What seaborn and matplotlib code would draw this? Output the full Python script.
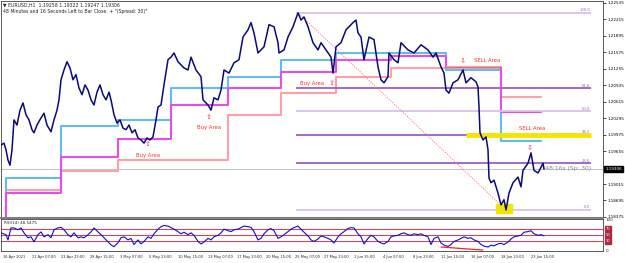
import numpy as np
import pandas as pd
import matplotlib
matplotlib.use("Agg")
import matplotlib.pyplot as plt
import seaborn as sns

# ---- price trace (slot position along the time axis, price) ----
t_price = [0, 3, 5, 7, 9, 11, 13, 16, 19, 22, 25, 28, 31, 33, 36, 40, 43, 46, 50, 53,
           56, 58, 60, 63, 66, 69, 72, 75, 78, 81, 84, 87, 90, 93, 96, 99, 102, 105, 108, 110,
           113, 116, 119, 122, 125, 128, 131, 134, 137, 140, 143, 146, 149, 152, 155, 157, 160, 163, 167, 170,
           173, 177, 180, 183, 187, 190, 195, 200, 202, 205, 207, 210, 213, 217, 220, 223, 228, 233, 238, 242,
           247, 250, 253, 257, 260, 263, 268, 273, 277, 278, 283, 287, 292, 297, 300, 303, 307, 312, 317, 320,
           325, 330, 332, 335, 340, 345, 348, 352, 355, 357, 360, 363, 368, 373, 377, 380, 383, 387, 388, 393,
           397, 400, 407, 413, 420, 427, 432, 435, 440, 443, 445, 448, 452, 457, 462, 465, 470, 475, 477, 478,
           479, 482, 485, 487, 488, 490, 493, 497, 500, 503, 505, 508, 512, 517, 520, 522, 527, 530, 533, 537,
           540, 542, 543]
price = [1.1977, 1.1981, 1.1968, 1.1948, 1.1938, 1.1968, 1.2026, 1.2016, 1.2045, 1.2059,
         1.2036, 1.2026, 1.2007, 1.2001, 1.2016, 1.2030, 1.2039, 1.2016, 1.2003, 1.2026,
         1.2045, 1.2065, 1.2104, 1.2123, 1.2139, 1.2127, 1.2104, 1.2114, 1.2088, 1.2075,
         1.2094, 1.2084, 1.2065, 1.2055, 1.2080, 1.2094, 1.2075, 1.2065, 1.2080, 1.2065,
         1.2036, 1.2020, 1.2026, 1.2010, 1.2007, 1.2016, 1.2001, 1.2007, 1.1991, 1.1987,
         1.1981, 1.1991, 1.1987, 1.1993, 1.2026, 1.2051, 1.2055, 1.2094, 1.2143, 1.2148,
         1.2156, 1.2139, 1.2133, 1.2127, 1.2123, 1.2148, 1.2123, 1.2110, 1.2065, 1.2059,
         1.2055, 1.2045, 1.2069, 1.2065, 1.2084, 1.2123, 1.2117, 1.2137, 1.2143, 1.2187,
         1.2201, 1.2215, 1.2195, 1.2156, 1.2162, 1.2168, 1.2211, 1.2207, 1.2176, 1.2156,
         1.2162, 1.2187, 1.2207, 1.2234, 1.2220, 1.2226, 1.2207, 1.2176, 1.2162, 1.2176,
         1.2162, 1.2148, 1.2117, 1.2168, 1.2176, 1.2201, 1.2207, 1.2215, 1.2220, 1.2195,
         1.2187, 1.2143, 1.2187, 1.2182, 1.2129, 1.2104, 1.2098, 1.2110, 1.2156, 1.2143,
         1.2137, 1.2176, 1.2162, 1.2156, 1.2172, 1.2162, 1.2148, 1.2156, 1.2129, 1.2117,
         1.2084, 1.2078, 1.2098, 1.2104, 1.2123, 1.2098, 1.2108, 1.2100, 1.2090, 1.2051,
         1.2001, 1.1987, 1.1993, 1.1968, 1.1913, 1.1904, 1.1909, 1.1884, 1.1861, 1.1871,
         1.1851, 1.1884, 1.1904, 1.1915, 1.1896, 1.1928, 1.1942, 1.1962, 1.1928, 1.1923,
         1.1934, 1.1942, 1.19306]

# ---- weekly levels (step lines) ----
week_edges = [0, 5, 60, 117, 170, 227, 280, 335, 390, 445, 500, 540]
blue_lvl = [1.1800, 1.1913, 1.2014, 1.2026, 1.2088, 1.2110, 1.2143, 1.2156, 1.2156, 1.2123, 1.1985]
magenta_lvl = [1.1800, 1.1884, 1.1954, 1.1989, 1.2055, 1.2088, 1.2119, 1.2143, 1.2150, 1.2129, 1.2042]
pink_lvl = [1.1800, 1.1890, 1.1927, 1.1948, 1.1948, 1.2036, 1.2078, 1.2110, 1.2127, 1.2125, 1.2071]
gold_lvl = [1.2131]
gold_edges = [445, 500]

# ---- fibonacci from swing high to swing low ----
swing_high, swing_low = 1.2234, 1.1851
t_high, t_low = 297, 505
fib_ratios = [1.0, 0.618, 0.5, 0.382, 0.236, 0.0]
fib_labels = ["100.0", "61.8", "50.0", "38.2", "23.6", "0.0"]
fib_colors = ["#d9c2ea", "#9c5fc0", "#d9c2ea", "#9c5fc0", "#9c5fc0", "#d9c2ea"]

# ---- RSI(14) ----
t_rsi = [0, 5, 7, 10, 13, 17, 20, 23, 27, 30, 33, 37, 40, 43, 47, 50, 53, 57, 60, 63,
         67, 70, 73, 77, 80, 83, 87, 90, 93, 97, 100, 103, 107, 110, 113, 117, 120, 123, 127, 130,
         133, 137, 140, 143, 147, 150, 153, 157, 160, 163, 167, 170, 173, 177, 180, 183, 187, 190, 193, 197,
         200, 203, 207, 210, 213, 217, 220, 223, 227, 230, 233, 237, 240, 243, 247, 250, 253, 257, 260, 263,
         267, 270, 273, 277, 280, 283, 287, 290, 293, 297, 300, 303, 307, 310, 313, 317, 320, 323, 327, 330,
         333, 337, 340, 343, 347, 350, 353, 357, 360, 363, 367, 370, 373, 377, 380, 383, 387, 390, 393, 397,
         400, 403, 407, 410, 413, 417, 420, 423, 427, 430, 433, 437, 440, 443, 447, 450, 453, 457, 460, 463,
         467, 470, 473, 477, 480, 483, 487, 490, 493, 497, 500, 503, 507, 510, 513, 517, 520, 523, 527, 530,
         533, 537, 540, 543]
rsi = [58, 52, 35, 74, 74, 68, 74, 58, 42, 45, 29, 52, 61, 45, 52, 42, 68, 74, 76, 68,
       52, 45, 58, 42, 45, 42, 52, 61, 74, 61, 52, 42, 29, 19, 13, 26, 42, 45, 35, 40,
       20, 35, 22, 30, 45, 40, 55, 70, 78, 82, 80, 75, 70, 62, 55, 60, 52, 58, 50, 30,
       22, 28, 40, 35, 45, 50, 58, 70, 65, 62, 68, 70, 75, 80, 78, 76, 62, 35, 40, 55,
       68, 72, 65, 40, 45, 52, 62, 70, 75, 80, 70, 60, 48, 35, 30, 38, 48, 45, 40, 35,
       25, 45, 55, 62, 72, 75, 74, 55, 45, 22, 40, 50, 45, 30, 25, 22, 30, 45, 48, 50,
       55, 58, 52, 50, 55, 52, 55, 50, 45, 20, 40, 45, 25, 18, 14, 20, 30, 35, 40, 45,
       40, 42, 35, 30, 20, 15, 12, 18, 16, 22, 24, 20, 28, 38, 45, 48, 50, 60, 62, 65,
       55, 50, 52, 48.5]
rsi_levels = [70, 50, 30]

# ---- axis labels ----
price_ticks = [1.22535, 1.22215, 1.21895, 1.21575, 1.21255, 1.20935, 1.20615,
               1.20295, 1.19975, 1.19655, 1.19015, 1.18695, 1.18375]
time_ticks = [2, 31, 60, 89, 119, 148, 177, 207, 236, 265, 294, 323, 353, 382,
              412, 440, 470, 500, 530]
time_labels = ["16 Apr 2021", "21 Apr 07:00", "23 Apr 23:00", "28 Apr 15:00", "3 May 07:00",
               "5 May 23:00", "10 May 15:00", "13 May 07:00", "17 May 23:00", "20 May 15:00",
               "25 May 07:00", "27 May 23:00", "1 Jun 15:00", "4 Jun 07:00", "8 Jun 23:00",
               "11 Jun 15:00", "16 Jun 07:00", "18 Jun 23:00", "23 Jun 15:00"]
last_price = 1.19306

sns.set_style("white")
plt.rcParams["font.family"] = ["DejaVu Sans"]
FS = 3.0
RED = "#ff2a2a"

fig = plt.figure(figsize=(6.25, 2.63), dpi=100)
ax = fig.add_axes([1 / 625, 1 - 218 / 263, 602 / 625, 217 / 263])
ax2 = fig.add_axes([1 / 625, 1 - 251 / 263, 602 / 625, 32 / 263])

XMAX = 602
ax.set_xlim(0, XMAX)
ax.set_ylim(1.18355, 1.2257)

# current price line
ax.axhline(last_price, color="#c8c8c8", lw=0.8, zorder=1)

# weekly levels
for lvl, col in [(pink_lvl, "#ffa0a8"), (blue_lvl, "#62bde8"), (magenta_lvl, "#e64fe6")]:
    sns.lineplot(x=week_edges, y=lvl + [lvl[-1]], drawstyle="steps-post", color=col,
                 lw=1.5, ax=ax, zorder=2)
sns.lineplot(x=gold_edges, y=gold_lvl * 2, color="#f0c040", lw=0.8, ax=ax, zorder=2)

# fibonacci levels
for r, lab, col in zip(fib_ratios, fib_labels, fib_colors):
    lv = swing_low + r * (swing_high - swing_low)
    ax.hlines(lv, t_high - 2, 590, color=col, lw=1.3, zorder=2)
    ax.text(589, lv + 0.00012, lab, color="#9c5fc0", fontsize=FS - 0.3, ha="right", va="bottom")
ax.plot([t_high, t_low], [swing_high, swing_low], color="#ff7070", lw=0.6, ls=(0, (1.5, 1.5)), zorder=2)

# sell zone at 38.2
ax.hlines(swing_low + 0.382 * (swing_high - swing_low), 465, 590, color="#f2e600", lw=3.5, zorder=2)
ax.fill_between([495, 511], swing_low - 0.0006, swing_low + 0.0011, color="#f2e600", zorder=2)

# price
sns.lineplot(x=t_price, y=price, color="#0a0a78", lw=1.1, ax=ax, zorder=4)

# annotations
ARR = FS + 2.2
ax.text(147, 1.1980, "\u21e7", color=RED, fontsize=ARR, ha="center", va="center")
ax.text(147, 1.1957, "Buy Area", color=RED, fontsize=FS + 0.8, ha="center", va="center")
ax.text(208, 1.2031, "\u21e7", color=RED, fontsize=ARR, ha="center", va="center")
ax.text(208, 1.2011, "Buy Area", color=RED, fontsize=FS + 0.8, ha="center", va="center")
ax.text(311, 1.2097, "Buy Area", color=RED, fontsize=FS + 0.8, ha="center", va="center")
ax.text(331, 1.2098, "\u21e7", color=RED, fontsize=ARR, ha="center", va="center")
ax.text(462, 1.2142, "\u21e9", color=RED, fontsize=ARR, ha="center", va="center")
ax.text(486, 1.2142, "SELL Area", color=RED, fontsize=FS + 0.8, ha="center", va="center")
ax.text(531, 1.2009, "SELL Area", color=RED, fontsize=FS + 0.8, ha="center", va="center")
ax.text(529, 1.1972, "\u21e9", color=RED, fontsize=ARR, ha="center", va="center")
ax.text(590, last_price + 0.0001, "\u203948:16s (Sp: 30)", color="#8a8a8a", fontsize=FS + 1.3,
        ha="right", va="center")

# price axis on the right
ax.yaxis.tick_right()
ax.set_yticks(price_ticks)
ax.set_yticklabels([f"{p:.5f}" for p in price_ticks], fontsize=FS)
ax.tick_params(axis="y", length=2, width=0.5, pad=1, colors="black")
ax.set_xticks([])
ax.text(1.004, (last_price - 1.18355) / (1.2257 - 1.18355), f"{last_price:.5f}",
        transform=ax.transAxes, fontsize=FS, color="white", va="center", ha="left",
        bbox=dict(boxstyle="square,pad=0.25", fc="black", ec="black"))
for s in ax.spines.values():
    s.set_color("#404040")
    s.set_linewidth(0.6)
ax.spines["bottom"].set_color("#808080")
ax.spines["bottom"].set_linewidth(1.5)

# RSI panel
ax2.set_xlim(0, XMAX)
ax2.set_ylim(-1, 103)
for lv in rsi_levels:
    ax2.axhline(lv, color="#c04a6a", lw=0.8, zorder=1)
sns.lineplot(x=t_rsi, y=rsi, color="#1010d0", lw=0.8, ax=ax2, zorder=3)
ax2.plot([440, 482], [12, 2], color="#ff2020", lw=0.9, zorder=2)
ax2.text(3, 97, "RSI(14) 48.5475", fontsize=FS, va="top", ha="left")
ax2.yaxis.tick_right()
ax2.set_yticks([100, 0])
ax2.set_yticklabels(["100", "0"], fontsize=FS)
ax2.tick_params(axis="y", length=0, pad=2)
for lv in rsi_levels:
    ax2.text(1.004, (lv + 1) / 104, str(lv), transform=ax2.transAxes, fontsize=FS - 0.4,
             color="white", va="center", ha="left",
             bbox=dict(boxstyle="square,pad=0.2", fc="#b02840", ec="#b02840"))
ax2.set_xticks(time_ticks)
ax2.set_xticklabels(time_labels, fontsize=FS - 0.4, ha="left")
ax2.tick_params(axis="x", length=2, width=0.5, pad=1)
ax2.set_xlabel("")
ax2.set_ylabel("")
ax.set_xlabel("")
ax.set_ylabel("")
for s in ax2.spines.values():
    s.set_color("#404040")
    s.set_linewidth(0.6)

fig.text(3 / 625, 1 - 5 / 263, "\u25bc EURUSD,H1  1.19258 1.19322 1.19247 1.19306",
         fontsize=FS + 0.3, va="center", ha="left")
fig.text(3 / 625, 1 - 12 / 263,
         "48 Minutes and 16 Seconds Left to Bar Close. + \"(Spread: 30)\"",
         fontsize=FS + 0.3, va="center", ha="left")

fig.savefig("out.png", dpi=100)
